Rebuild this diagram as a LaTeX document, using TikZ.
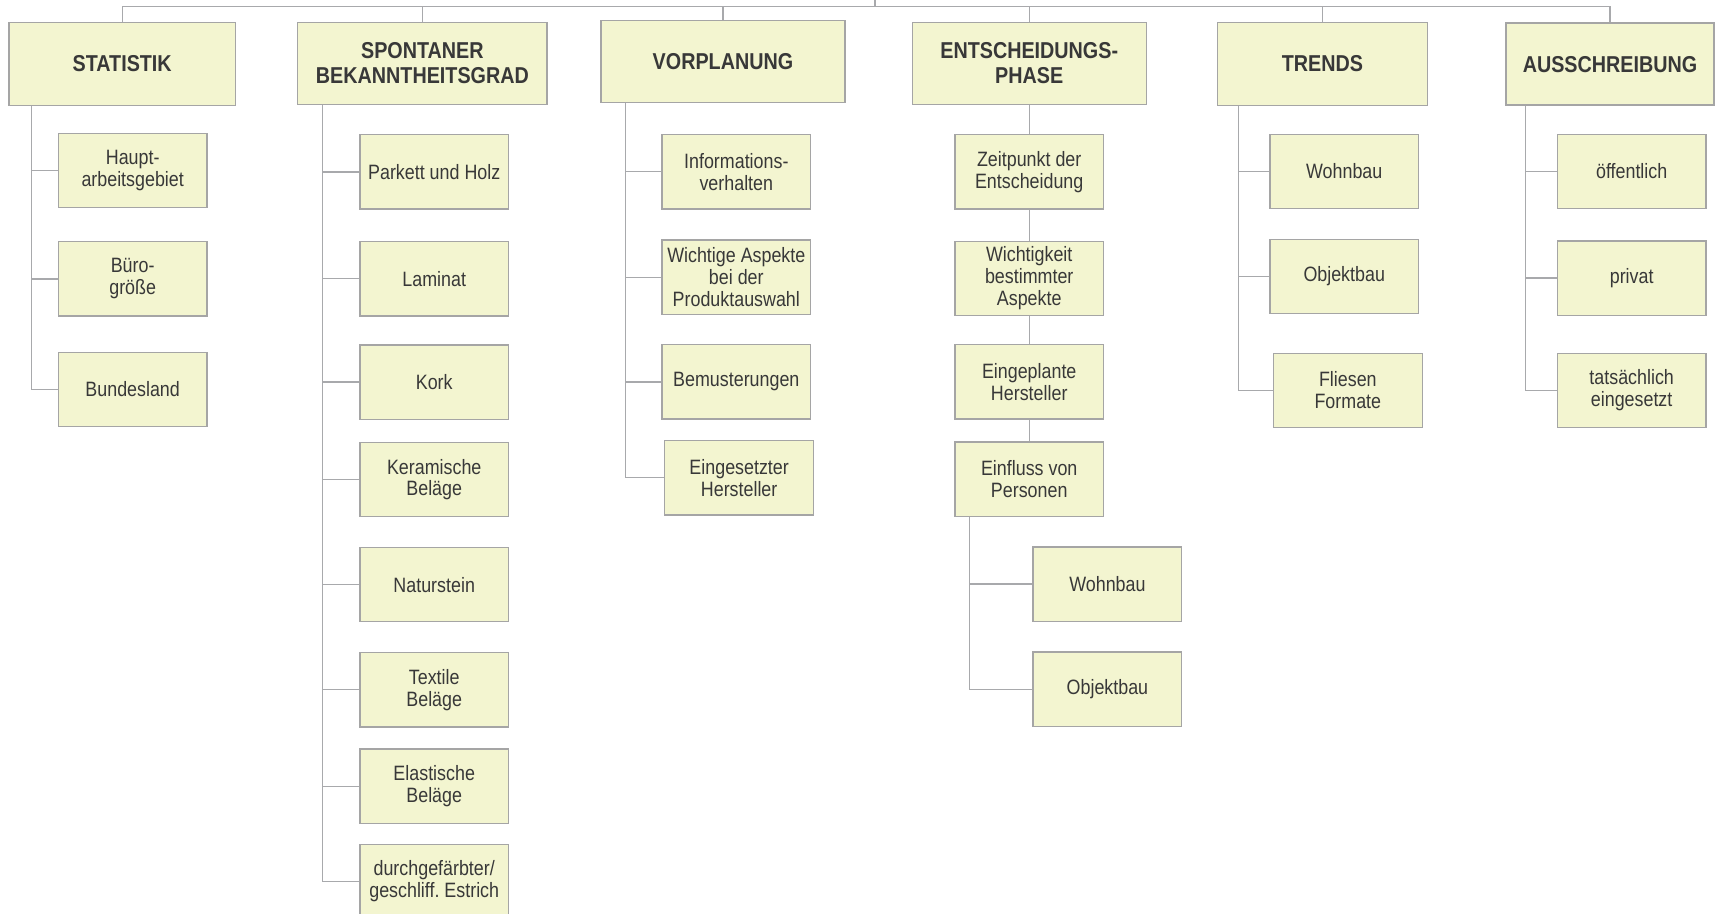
\documentclass[tikz,border=0pt]{standalone}
\usepackage{fontspec}
\setmainfont[FakeStretch=0.86]{Liberation Sans}
\frenchspacing
\definecolor{boxfill}{HTML}{F3F5D0}
\definecolor{boxline}{HTML}{A5A5A5}
\definecolor{linecol}{HTML}{A8A9AC}
\definecolor{txt}{HTML}{383838}
\begin{document}
\begin{tikzpicture}[x=1pt,y=-1pt,
  box/.style={draw=boxline, fill=boxfill, line width=1.2pt, align=center, inner sep=0pt, text=txt,
              font=\fontsize{19}{20}\selectfont},
  head/.style={box, font=\bfseries\fontsize{21}{23}\selectfont},
  kid/.style={box, minimum width=136pt, minimum height=68pt},
  conn/.style={draw=linecol, line width=1.1pt}]
\useasboundingbox (0,0) rectangle (1568,835);

% headers
\node[head, minimum width=207pt, minimum height=76pt] (stat) at (111.7,58.5) {STATISTIK};
\node[head, minimum width=228pt, minimum height=75pt] (spon) at (386.2,58) {SPONTANER\\BEKANNTHEITSGRAD};
\node[head, minimum width=223pt, minimum height=75pt] (vor) at (661,56.5) {VORPLANUNG};
\node[head, minimum width=214pt, minimum height=75pt] (ent) at (941,58) {ENTSCHEIDUNGS-\\PHASE};
\node[head, minimum width=192pt, minimum height=76pt] (tre) at (1209,58.4) {TRENDS};
\node[head, minimum width=190pt, minimum height=75pt] (aus) at (1472,58.6) {AUSSCHREIBUNG};

% top bus
\coordinate (root) at (800,0);
\coordinate (bus) at (800,6);
\draw[conn] (root) -- (bus);
\foreach \h in {stat,spon,vor,ent,tre,aus} \draw[conn] (bus) -| (\h.north);

% STATISTIK
\node[kid] (s1) at (121.3,156) {Haupt-\\arbeitsgebiet};
\node[kid] (s2) at (121.3,255) {Büro-\\größe};
\node[kid] (s3) at (121.3,356) {Bundesland};
\foreach \k in {s1,s2,s3} \draw[conn] ([xshift=21.3pt]stat.south west) |- (\k.west);

% SPONTANER BEKANNTHEITSGRAD
\node[kid] (p1) at (397,157.2) {Parkett und Holz};
\node[kid] (p2) at (397,254.8) {Laminat};
\node[kid] (p3) at (397,349.3) {Kork};
\node[kid] (p4) at (397,438.5) {Keramische\\Beläge};
\node[kid] (p5) at (397,534.5) {Naturstein};
\node[kid] (p6) at (397,630.6) {Textile\\Beläge};
\node[kid] (p7) at (397,718.9) {Elastische\\Beläge};
\node[kid] (p8) at (397,805.8) {durchgefärbter/\\geschliff. Estrich};
\foreach \k in {p1,p2,p3,p4,p5,p6,p7,p8} \draw[conn] ([xshift=23pt]spon.south west) |- (\k.west);

% VORPLANUNG
\node[kid] (v1) at (673.2,157) {Informations-\\verhalten};
\node[kid] (v2) at (673.2,253.5) {Wichtige Aspekte\\bei der\\Produktauswahl};
\node[kid] (v3) at (673.2,349.2) {Bemusterungen};
\node[kid] (v4) at (675.8,436.8) {Eingesetzter\\Hersteller};
\foreach \k in {v1,v2,v3,v4} \draw[conn] ([xshift=22.8pt]vor.south west) |- (\k.west);

% ENTSCHEIDUNGSPHASE
\node[kid] (e1) at (941,157) {Zeitpunkt der\\Entscheidung};
\node[kid] (e2) at (941,254.5) {Wichtigkeit\\bestimmter\\Aspekte};
\node[kid] (e3) at (941,349) {Eingeplante\\Hersteller};
\node[kid] (e4) at (941,438.1) {Einfluss von\\Personen};
\draw[conn] (ent.south) -- (e1.north);
\draw[conn] (e1.south) -- (e2.north);
\draw[conn] (e2.south) -- (e3.north);
\draw[conn] (e3.south) -- (e4.north);
\node[kid] (e5) at (1012.5,534) {Wohnbau};
\node[kid] (e6) at (1012.5,630.2) {Objektbau};
\foreach \k in {e5,e6} \draw[conn] ([xshift=13.8pt]e4.south west) |- (\k.west);

% TRENDS
\node[kid] (t1) at (1229,156.7) {Wohnbau};
\node[kid] (t2) at (1229,252.7) {Objektbau};
\node[kid] (t3) at (1232.3,357) {Fliesen\\Formate};
\foreach \k in {t1,t2,t3} \draw[conn] ([xshift=19.8pt]tre.south west) |- (\k.west);

% AUSSCHREIBUNG
\node[kid] (a1) at (1491.8,156.8) {öffentlich};
\node[kid] (a2) at (1491.8,254.2) {privat};
\node[kid] (a3) at (1491.8,357) {tatsächlich\\eingesetzt};
\foreach \k in {a1,a2,a3} \draw[conn] ([xshift=18.6pt]aus.south west) |- (\k.west);
\end{tikzpicture}
\end{document}
